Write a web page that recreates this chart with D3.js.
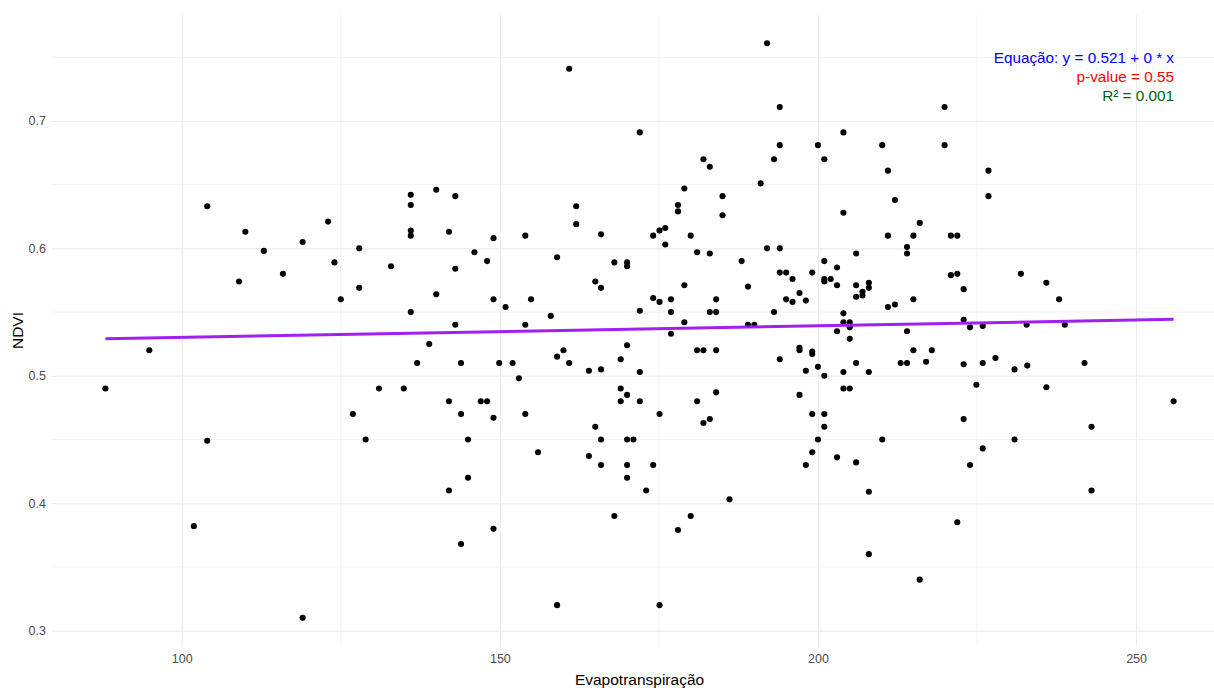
<!DOCTYPE html>
<html>
<head>
<meta charset="utf-8">
<script src="https://cdn.jsdelivr.net/npm/d3@7"></script>
<style>
  body { margin: 0; background: #fff; }
  svg { display: block; font-family: "Liberation Sans", Arial, sans-serif; }
</style>
</head>
<body>
<div id="chart"></div>
<script>
// values
const evapotranspiracao = [
  104.0, 110.0, 112.9, 109.0, 115.9, 119.0, 123.0, 124.0, 125.0, 127.9, 127.9,
  160.9, 172.0, 136.0, 136.0, 140.0, 143.0, 136.0, 136.0, 142.0, 149.0, 154.0, 162.0, 162.0, 165.9,
  132.9, 146.0, 148.0, 143.0, 159.0, 168.0, 170.0, 170.0, 140.0, 136.0, 143.0, 149.0, 150.9, 154.9,
  154.0, 158.0, 165.0, 165.9, 172.0,
  192.0, 194.0, 204.0, 194.0, 200.0, 210.1, 193.1, 201.0, 182.0, 183.0, 211.0, 191.0, 179.0, 185.0,
  212.1, 178.0, 178.0, 204.0, 185.0, 216.0, 174.1, 175.1, 176.0, 176.0, 180.0, 211.0, 215.0, 214.0,
  214.0, 181.0, 183.0, 192.0, 194.0, 206.0, 188.0, 201.0, 203.0, 194.0, 195.0, 196.0, 199.1, 201.0,
  201.0, 202.0, 203.0, 206.0, 208.0, 208.0, 207.0, 207.0, 206.0, 211.0, 212.1, 215.0, 189.0, 179.0,
  174.1, 175.1, 176.9, 176.9, 179.0, 176.9, 183.0, 184.0, 184.0, 195.0, 196.0, 197.1, 198.1, 193.1,
  189.0, 190.0, 204.0, 204.0, 205.0, 205.0, 203.0, 205.0, 214.0,
  219.9, 219.9, 226.8, 226.8, 220.9, 221.9, 220.9, 221.9, 222.9, 231.9, 235.9, 237.9, 222.9, 223.9,
  225.9, 232.8, 238.8,
  94.9, 88.0, 126.9, 128.9, 104.0, 101.9, 119.0,
  138.9, 137.0, 143.9, 149.9, 152.0, 153.0, 159.0, 160.0, 160.9, 164.0, 165.9, 169.0, 170.0, 172.0,
  131.0, 134.9, 142.0, 147.0, 148.0, 143.9, 149.0, 154.0, 169.0, 170.0, 169.0, 172.0, 165.0, 145.0,
  165.9, 170.0, 171.0, 156.0, 164.0, 165.9, 170.0, 145.0, 170.0, 142.0, 173.0, 168.0, 149.0, 143.9,
  159.0,
  181.0, 182.0, 184.0, 194.0, 197.1, 197.1, 199.1, 199.1, 198.1, 200.0, 201.0, 204.0, 206.0, 208.0,
  215.0, 213.0, 214.0, 217.0, 204.0, 205.0, 175.1, 181.0, 184.0, 182.0, 183.0, 197.1, 199.1, 201.0,
  201.0, 200.0, 210.1, 199.1, 198.1, 203.0, 206.0, 174.1, 208.0, 186.1, 180.0, 178.0, 208.0, 216.0,
  175.1,
  217.9, 222.9, 225.9, 227.9, 230.9, 232.9, 241.9, 224.9, 235.9, 255.9, 222.9, 243.0, 230.9, 225.9,
  223.9, 243.0, 221.9
];
const ndvi = [
  0.633, 0.613, 0.598, 0.574, 0.580, 0.605, 0.621, 0.589, 0.560, 0.600, 0.569,
  0.741, 0.691, 0.642, 0.634, 0.646, 0.641, 0.614, 0.610, 0.613, 0.608, 0.610, 0.633, 0.619, 0.611,
  0.586, 0.597, 0.590, 0.584, 0.593, 0.589, 0.589, 0.586, 0.564, 0.550, 0.540, 0.560, 0.554, 0.560,
  0.540, 0.547, 0.574, 0.569, 0.551,
  0.761, 0.711, 0.691, 0.681, 0.681, 0.681, 0.670, 0.670, 0.670, 0.664, 0.661, 0.651, 0.647, 0.641,
  0.638, 0.634, 0.629, 0.628, 0.626, 0.620, 0.610, 0.614, 0.616, 0.603, 0.610, 0.610, 0.610, 0.601,
  0.596, 0.597, 0.596, 0.600, 0.600, 0.596, 0.590, 0.590, 0.585, 0.581, 0.581, 0.576, 0.581, 0.576,
  0.574, 0.576, 0.571, 0.571, 0.573, 0.569, 0.566, 0.563, 0.562, 0.554, 0.556, 0.560, 0.570, 0.571,
  0.561, 0.558, 0.560, 0.550, 0.542, 0.533, 0.550, 0.560, 0.550, 0.560, 0.558, 0.565, 0.559, 0.550,
  0.540, 0.540, 0.549, 0.542, 0.542, 0.538, 0.535, 0.529, 0.535,
  0.711, 0.681, 0.661, 0.641, 0.610, 0.610, 0.579, 0.580, 0.568, 0.580, 0.573, 0.560, 0.544, 0.538,
  0.539, 0.540, 0.540,
  0.520, 0.490, 0.470, 0.450, 0.449, 0.382, 0.310,
  0.525, 0.510, 0.510, 0.510, 0.510, 0.498, 0.515, 0.520, 0.510, 0.504, 0.505, 0.513, 0.524, 0.503,
  0.490, 0.490, 0.480, 0.480, 0.480, 0.470, 0.467, 0.470, 0.490, 0.485, 0.480, 0.480, 0.460, 0.450,
  0.450, 0.450, 0.450, 0.440, 0.437, 0.430, 0.430, 0.420, 0.420, 0.410, 0.410, 0.390, 0.380, 0.368,
  0.320,
  0.520, 0.520, 0.520, 0.513, 0.522, 0.520, 0.519, 0.517, 0.504, 0.507, 0.500, 0.503, 0.510, 0.503,
  0.520, 0.510, 0.510, 0.511, 0.490, 0.490, 0.470, 0.480, 0.487, 0.463, 0.466, 0.485, 0.470, 0.470,
  0.460, 0.450, 0.450, 0.440, 0.430, 0.436, 0.432, 0.430, 0.409, 0.403, 0.390, 0.379, 0.360, 0.340,
  0.320,
  0.520, 0.509, 0.510, 0.514, 0.505, 0.508, 0.510, 0.493, 0.491, 0.480, 0.466, 0.460, 0.450, 0.443,
  0.430, 0.410, 0.385
];

// fitted line (intercept and slope)
const intercept = 0.5210;
const slope = 0.0000911;

const xTicks = [100, 150, 200, 250];
const xMinor = [125, 175, 225];
const yTicks = [0.3, 0.4, 0.5, 0.6, 0.7];
const yMinor = [0.35, 0.45, 0.55, 0.65, 0.75];

const annotations = [
  { text: "Equação: y = 0.521 + 0 * x", color: "#0000ff" },
  { text: "p-value = 0.55", color: "#ff0000" },
  { text: "R² = 0.001", color: "#006400" }
];

const width = 1214, height = 688;
const panelLeft = 52, panelRight = 1227, panelTop = 14.5, panelBottom = 646.6;

const data = evapotranspiracao.map((x, i) => ({ x: x, y: ndvi[i] }));

// ggplot style 5% expansion of the data range
const xExt = d3.extent(data, d => d.x);
const yExt = d3.extent(data, d => d.y);
const xPad = (xExt[1] - xExt[0]) * 0.05, yPad = (yExt[1] - yExt[0]) * 0.05;

const xScale = d3.scaleLinear().domain([xExt[0] - xPad, xExt[1] + xPad]).range([panelLeft, panelRight]);
const yScale = d3.scaleLinear().domain([yExt[0] - yPad, yExt[1] + yPad]).range([panelBottom, panelTop]);

const svg = d3.select("#chart").append("svg")
    .attr("width", width)
    .attr("height", height)
    .attr("viewBox", [0, 0, width, height]);

// minor grid
const grid = svg.append("g");
grid.selectAll(".xminor").data(xMinor).join("line")
    .attr("x1", d => xScale(d)).attr("x2", d => xScale(d))
    .attr("y1", panelTop).attr("y2", panelBottom)
    .attr("stroke", "#f2f2f2").attr("stroke-width", 1);
grid.selectAll(".yminor").data(yMinor).join("line")
    .attr("y1", d => yScale(d)).attr("y2", d => yScale(d))
    .attr("x1", panelLeft).attr("x2", panelRight)
    .attr("stroke", "#f2f2f2").attr("stroke-width", 1);

// axes, domain removed and ticks stretched into major grid lines
svg.append("g")
    .attr("transform", `translate(0,${panelBottom})`)
    .call(d3.axisBottom(xScale).tickValues(xTicks).tickSize(0).tickPadding(8).tickFormat(d3.format("d")))
    .call(g => g.select(".domain").remove())
    .call(g => g.selectAll(".tick line").clone()
        .attr("y2", panelTop - panelBottom)
        .attr("stroke", "#ebebeb").attr("stroke-width", 1.1))
    .call(g => g.selectAll(".tick text")
        .attr("fill", "#4d4d4d").style("font-size", "12.5px")
        .style("font-family", "'Liberation Sans', Arial, sans-serif"));

svg.append("g")
    .attr("transform", `translate(${panelLeft},0)`)
    .call(d3.axisLeft(yScale).tickValues(yTicks).tickSize(0).tickPadding(6).tickFormat(d3.format(".1f")))
    .call(g => g.select(".domain").remove())
    .call(g => g.selectAll(".tick line").clone()
        .attr("x2", panelRight - panelLeft)
        .attr("stroke", "#ebebeb").attr("stroke-width", 1.1))
    .call(g => g.selectAll(".tick text")
        .attr("fill", "#4d4d4d").style("font-size", "12.5px")
        .style("font-family", "'Liberation Sans', Arial, sans-serif"));

// axis titles
svg.append("text")
    .attr("x", (panelLeft + panelRight) / 2)
    .attr("y", 685)
    .attr("text-anchor", "middle")
    .attr("fill", "#000")
    .style("font-size", "15.5px")
    .text("Evapotranspiração");

svg.append("text")
    .attr("transform", `translate(23,${(panelTop + panelBottom) / 2}) rotate(-90)`)
    .attr("text-anchor", "middle")
    .attr("fill", "#000")
    .style("font-size", "15.5px")
    .text("NDVI");

// points
svg.append("g")
  .selectAll("circle")
  .data(data)
  .join("circle")
    .attr("cx", d => xScale(d.x))
    .attr("cy", d => yScale(d.y))
    .attr("r", 3.05)
    .attr("fill", "#000");

// regression line over the data range
const fit = xExt.map(x => ({ x: x, y: intercept + slope * x }));
svg.append("path")
    .datum(fit)
    .attr("d", d3.line().x(d => xScale(d.x)).y(d => yScale(d.y)))
    .attr("fill", "none")
    .attr("stroke", "#a020f0")
    .attr("stroke-width", 3);

// annotation
svg.append("g")
  .selectAll("text")
  .data(annotations)
  .join("text")
    .attr("x", 1174)
    .attr("y", (d, i) => 63 + i * 19)
    .attr("text-anchor", "end")
    .attr("fill", d => d.color)
    .style("font-size", "15.3px")
    .text(d => d.text);
</script>
</body>
</html>
